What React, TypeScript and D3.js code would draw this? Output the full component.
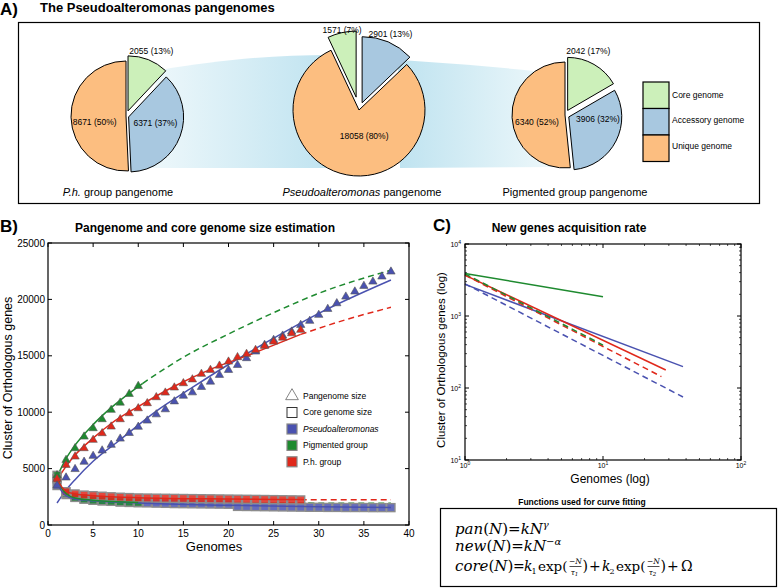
import React from 'react';
import * as d3 from 'd3';

// ---------------- Panel A data ----------------
const pieTitlesItalic = ['P.h.', 'Pseudoalteromonas', ''];
const pieTitlesRest = [' group pangenome', ' pangenome', 'Pigmented group pangenome'];
const genomeParts = ['Core genome', 'Accessory genome', 'Unique genome'];
const coreGenes = [2055, 1571, 2042];
const accessoryGenes = [6371, 2901, 3906];
const uniqueGenes = [8671, 18058, 6340];
const corePct = [13, 7, 17];
const accessoryPct = [37, 13, 32];
const uniquePct = [50, 80, 52];

// ---------------- Panel B data ----------------
const bXTicks = [0, 5, 10, 15, 20, 25, 30, 35, 40];
const bYTicks = [0, 5000, 10000, 15000, 20000, 25000];
// pangenome size (triangles), index i -> N = i + 1
const panPseudo = [3500, 4200, 4950, 5600, 6120, 6600, 7100, 7650, 8150, 8700, 9250, 9800, 10250, 10950, 11450, 11750, 12230, 12700, 13300, 13740, 14180, 14780, 15370, 15960, 16400, 16780, 17140, 17730, 18090, 18620, 19150, 19650, 20240, 20690, 21190, 21570, 22020, 22460];
const panPigmented = [4400, 5760, 6800, 7830, 8570, 9370, 10200, 10840, 11610, 12320];
const panPh = [4100, 5320, 6060, 6800, 7540, 8130, 8720, 9370, 9900, 10340, 10790, 11320, 11730, 12180, 12560, 12900, 13390, 13740, 14120, 14480, 14870, 15160, 15510, 15870, 16250, 16600, 16990, 17290];
// core genome size (squares)
const corePseudo = [3500, 2700, 2450, 2300, 2200, 2150, 2100, 2050, 2000, 1980, 1960, 1940, 1920, 1900, 1890, 1880, 1870, 1860, 1850, 1840, 1650, 1640, 1630, 1620, 1610, 1600, 1590, 1580, 1570, 1570, 1560, 1560, 1550, 1550, 1550, 1540, 1540, 1540];
const corePigmented = [4400, 2800, 2450, 2300, 2200, 2150, 2100, 2050, 2020, 2000];
const corePh = [4100, 2950, 2750, 2650, 2600, 2550, 2500, 2460, 2430, 2400, 2390, 2380, 2370, 2360, 2350, 2340, 2330, 2320, 2310, 2300, 2290, 2280, 2270, 2260, 2250, 2240, 2230, 2220];
// fitted curves: [N, genes]
const panFitPseudo: [number, number][] = [[1, 1950], [2, 3090], [3, 4020], [5, 5650], [8, 7560], [12, 10100], [16, 12200], [20, 14230], [25, 16560], [30, 18760], [38, 21720]];
const panFitPigmented: [number, number][] = [[1, 4290], [2, 5890], [3, 7080], [5, 8900], [7, 10400], [10.5, 12560]];
const panFitPigmentedExt: [number, number][] = [[10.5, 12560], [15, 14870], [20, 16930], [25, 18820], [30, 20540], [38, 22590]];
const panFitPh: [number, number][] = [[1, 4000], [2, 5200], [3, 6200], [5, 7700], [7, 9000], [10, 10500], [14, 12300], [18, 13800], [22, 15000], [28, 16900]];
const panFitPhExt: [number, number][] = [[28, 16900], [33, 18200], [38, 19300]];
const coreFitPseudo: [number, number][] = [[1, 3900], [1.5, 3000], [2, 2600], [3, 2300], [5, 2150], [10, 1950], [20, 1750], [30, 1620], [38, 1560]];
const coreFitPigmented: [number, number][] = [[1, 4300], [1.5, 3300], [2, 2800], [3, 2400], [5, 2200], [10, 2000]];
const coreFitPigmentedExt: [number, number][] = [[10, 2000], [20, 1960], [38, 1930]];
const coreFitPh: [number, number][] = [[1, 4100], [1.5, 3400], [2, 3000], [3, 2750], [5, 2600], [10, 2420], [20, 2300], [28, 2250]];
const coreFitPhExt: [number, number][] = [[28, 2250], [38, 2230]];
const bLegendLabels = ['Pangenome size', 'Core genome size', 'Pseudoalteromonas', 'Pigmented group', 'P.h. group'];

// ---------------- Panel C data ----------------
const cXTicks = [1, 10, 100];
const cYTicks = [10, 100, 1000, 10000];
const newPseudoFit: [number, number][] = [[1, 2750], [38, 198]];
const newPseudoObs: [number, number][] = [[1, 2800], [38, 75]];
const newPigmentedFit: [number, number][] = [[1, 3900], [10, 1850]];
const newPigmentedObs: [number, number][] = [[1, 3850], [10, 395]];
const newPhFit: [number, number][] = [[1, 3700], [28.5, 178]];
const newPhObs: [number, number][] = [[1, 3700], [26.5, 144]];

// ---------------- style / layout ----------------
const SANS = "'Liberation Sans', Arial, Helvetica, sans-serif";
const SERIF = "'DejaVu Serif', 'Liberation Serif', serif";
const pieColors = ['#ccf0ba', '#a8c8e0', '#fcbe80'];
const BLUE = '#4a52b0';
const GREEN = '#1e8a2f';
const RED = '#e0281b';

const pieLayout = [
  { cx: 126, cy: 116, r: 55, coreEndsAtTop: false, explode: [0.1, 0.05, 0], lr: [1.25, 0.57, 0.57], nudge: [[0, -1], [0, -4], [0, 5]], cap: 118 },
  { cx: 359, cy: 110, r: 66, coreEndsAtTop: true, explode: [0.2, 0.12, 0], lr: [1.25, 1.25, 0.4], nudge: [[1, 0.5], [-1, 0], [10, 0.5]], cap: 362 },
  { cx: 565, cy: 115, r: 53, coreEndsAtTop: false, explode: [0.1, 0.08, 0], lr: [1.28, 0.55, 0.55], nudge: [[-10.5, -5], [7, -9], [1, 5.5]], cap: 575 },
];

const xB = d3.scaleLinear().domain([0, 40]).range([48, 409]);
const yB = d3.scaleLinear().domain([0, 25000]).range([525, 243]);
const xC = d3.scaleLog().domain([1, 100]).range([465, 741]);
const yC = d3.scaleLog().domain([10, 10000]).range([460, 244]);

function Fraction({ x, sub }: { x: number; sub: string }) {
  return (
    <g>
      <text x={x} y={564} fontFamily={SERIF} fontStyle="italic" fontSize={7.5} textAnchor="middle">−N</text>
      <line x1={x - 6} x2={x + 6} y1={566.5} y2={566.5} stroke="#000" strokeWidth={0.7} />
      <text x={x - 1} y={574.5} fontFamily={SERIF} fontStyle="italic" fontSize={7.5} textAnchor="middle">τ<tspan fontSize={5.5} dy={1.5}>{sub}</tspan></text>
    </g>
  );
}

export default function App() {
  const W = 778, H = 588;

  // ---- pies ----
  const pies = pieLayout.map((L, i) => {
    const values = [coreGenes[i], accessoryGenes[i], uniqueGenes[i]];
    const pcts = [corePct[i], accessoryPct[i], uniquePct[i]];
    const total = d3.sum(values);
    const start = L.coreEndsAtTop ? (-2 * Math.PI * values[0]) / total : 0;
    const arcs = d3.pie<number>().sort(null).startAngle(start).endAngle(start + 2 * Math.PI)(values);
    const arcGen = d3.arc<d3.PieArcDatum<number>>().innerRadius(0).outerRadius(L.r);
    return (
      <g key={i}>
        <g transform={`translate(${L.cx},${L.cy})`}>
          {arcs.map((a, j) => {
            const mid = (a.startAngle + a.endAngle) / 2;
            const ex = L.explode[j] * L.r;
            return (
              <path key={j} d={arcGen(a) || ''} transform={`translate(${Math.sin(mid) * ex},${-Math.cos(mid) * ex})`}
                fill={pieColors[j]} stroke="#000" strokeWidth={1} strokeLinejoin="miter" />
            );
          })}
          {arcs.map((a, j) => {
            const mid = (a.startAngle + a.endAngle) / 2;
            const rr = L.lr[j] * L.r;
            return (
              <text key={'t' + j} x={Math.sin(mid) * rr + L.nudge[j][0]} y={-Math.cos(mid) * rr + L.nudge[j][1]} dy="0.35em"
                textAnchor="middle" fontSize={8.5} fontFamily={SANS}>{`${values[j]} (${pcts[j]}%)`}</text>
            );
          })}
        </g>
        <text x={L.cap} y={196} textAnchor="middle" fontSize={11} fontFamily={SANS}>
          {pieTitlesItalic[i] ? <tspan fontStyle="italic">{pieTitlesItalic[i]}</tspan> : null}
          <tspan>{pieTitlesRest[i]}</tspan>
        </text>
      </g>
    );
  });

  // ---- panel B ----
  const lineB = d3.line<[number, number]>().x(d => xB(d[0])).y(d => yB(d[1])).curve(d3.curveMonotoneX);
  const tri = d3.symbol().type(d3.symbolTriangle).size(30)() || '';
  const series = [
    { pan: panPseudo, core: corePseudo, color: BLUE },
    { pan: panPigmented, core: corePigmented, color: GREEN },
    { pan: panPh, core: corePh, color: RED },
  ];

  const lineC = d3.line<[number, number]>().x(d => xC(d[0])).y(d => yC(d[1]));
  const minorC = (lo: number, hi: number) => {
    const out: number[] = [];
    for (let d = lo; d < hi; d *= 10) for (let m = 2; m <= 9; m++) out.push(d * m);
    return out;
  };

  return (
    <svg width={W} height={H} style={{ position: 'absolute', left: 0, top: 0, background: '#fff' }} fontFamily={SANS}>
      <defs>
        <linearGradient id="band1" x1="0" x2="1" y1="0" y2="0">
          <stop offset="0" stopColor="#f3fafc" />
          <stop offset="1" stopColor="#bfe3f0" />
        </linearGradient>
        <linearGradient id="band2" x1="0" x2="1" y1="0" y2="0">
          <stop offset="0" stopColor="#bfe3f0" />
          <stop offset="1" stopColor="#f0f9fb" />
        </linearGradient>
      </defs>

      {/* ===== Panel A ===== */}
      <text x={0} y={15} fontSize={17} fontWeight="bold">A)</text>
      <text x={40} y={12} fontSize={13} fontWeight="bold">The Pseudoalteromonas pangenomes</text>
      <rect x={18.5} y={22.5} width={741} height={181} fill="#fff" stroke="#000" strokeWidth={1.2} />
      <path d="M160,70 C220,60 270,55 332,55 L332,168 L130,168 Z" fill="url(#band1)" />
      <path d="M398,60 C450,63 510,68 562,74 L562,167 L400,168 Z" fill="url(#band2)" />
      {pies}
      {genomeParts.map((g, j) => (
        <g key={g}>
          <rect x={643} y={82 + j * 26.5} width={26} height={26.5} fill={pieColors[j]} stroke="#000" strokeWidth={1.2} />
          <text x={672} y={97.5 + j * 25.5} fontSize={8.5}>{g}</text>
        </g>
      ))}

      {/* ===== Panel B ===== */}
      <text x={0} y={232} fontSize={17} fontWeight="bold">B)</text>
      <text x={205} y={232} fontSize={12} fontWeight="bold" textAnchor="middle">Pangenome and core genome size estimation</text>
      {bXTicks.map(t => (
        <g key={'bx' + t}>
          <line x1={xB(t)} x2={xB(t)} y1={525} y2={521} stroke="#000" />
          <line x1={xB(t)} x2={xB(t)} y1={243} y2={247} stroke="#000" />
          <text x={xB(t)} y={537} fontSize={10} textAnchor="middle">{t}</text>
        </g>
      ))}
      {bYTicks.map(t => (
        <g key={'by' + t}>
          <line x1={48} x2={52} y1={yB(t)} y2={yB(t)} stroke="#000" />
          <line x1={409} x2={405} y1={yB(t)} y2={yB(t)} stroke="#000" />
          <text x={45} y={yB(t)} dy="0.35em" fontSize={10} textAnchor="end">{t}</text>
        </g>
      ))}
      <text x={214} y={551} fontSize={13} textAnchor="middle">Genomes</text>
      <text transform="translate(12,378) rotate(-90)" fontSize={12.5} textAnchor="middle">Cluster of Orthologous genes</text>

      {/* fit curves */}
      <path d={lineB(panFitPseudo) || ''} fill="none" stroke={BLUE} strokeWidth={1.5} />
      <path d={lineB(panFitPigmented) || ''} fill="none" stroke={GREEN} strokeWidth={1.5} />
      <path d={lineB(panFitPigmentedExt) || ''} fill="none" stroke={GREEN} strokeWidth={1.5} strokeDasharray="6,4" />
      <path d={lineB(panFitPh) || ''} fill="none" stroke={RED} strokeWidth={1.5} />
      <path d={lineB(panFitPhExt) || ''} fill="none" stroke={RED} strokeWidth={1.5} strokeDasharray="6,4" />
      <path d={lineB(coreFitPigmentedExt) || ''} fill="none" stroke={GREEN} strokeWidth={1.5} strokeDasharray="6,4" />
      <path d={lineB(coreFitPhExt) || ''} fill="none" stroke={RED} strokeWidth={1.5} strokeDasharray="6,4" />

      {/* core squares */}
      {series.map((s, k) => (
        <g key={'sq' + k}>
          {s.core.map((v, i) => (
            <rect key={i} x={xB(i + 1) - 4} y={yB(v) - 4} width={8} height={8} fill={s.color} fillOpacity={0.85} stroke="#8c8c8c" strokeWidth={1.4} />
          ))}
        </g>
      ))}
      <path d={lineB(coreFitPseudo) || ''} fill="none" stroke={BLUE} strokeWidth={1.5} />
      <path d={lineB(coreFitPigmented) || ''} fill="none" stroke={GREEN} strokeWidth={1.5} />
      <path d={lineB(coreFitPh) || ''} fill="none" stroke={RED} strokeWidth={1.5} />

      {/* pan triangles */}
      {series.map((s, k) => (
        <g key={'tr' + k}>
          {s.pan.map((v, i) => (
            <path key={i} d={tri} transform={`translate(${xB(i + 1)},${yB(v)})`} fill={s.color} stroke="#555" strokeWidth={0.6} />
          ))}
        </g>
      ))}
      <rect x={48} y={243} width={361} height={282} fill="none" stroke="#000" strokeWidth={1.2} />

      {/* legend B */}
      <path d={d3.symbol().type(d3.symbolTriangle).size(70)() || ''} transform="translate(292,396)" fill="#fff" stroke="#666" strokeWidth={0.8} />
      <rect x={287} y={407.5} width={10} height={10} fill="#fff" stroke="#333" strokeWidth={1} />
      {[BLUE, GREEN, RED].map((c, j) => (
        <rect key={c} x={287} y={424 + j * 16.4} width={10} height={10} fill={c} stroke="#888" strokeWidth={1.2} />
      ))}
      {bLegendLabels.map((l, j) => (
        <text key={l} x={303} y={398.5 + j * 16.5} fontSize={8.5} fontStyle={j === 2 ? 'italic' : 'normal'}>{l}</text>
      ))}

      {/* ===== Panel C ===== */}
      <text x={433} y={231} fontSize={17} fontWeight="bold">C)</text>
      <text x={569} y={232} fontSize={12} fontWeight="bold" textAnchor="middle">New genes acquisition rate</text>
      {minorC(1, 100).map(t => (
        <g key={'cxm' + t}>
          <line x1={xC(t)} x2={xC(t)} y1={460} y2={458} stroke="#000" strokeWidth={0.7} />
          <line x1={xC(t)} x2={xC(t)} y1={244} y2={246} stroke="#000" strokeWidth={0.7} />
        </g>
      ))}
      {minorC(10, 10000).map(t => (
        <g key={'cym' + t}>
          <line x1={465} x2={467} y1={yC(t)} y2={yC(t)} stroke="#000" strokeWidth={0.7} />
          <line x1={741} x2={739} y1={yC(t)} y2={yC(t)} stroke="#000" strokeWidth={0.7} />
        </g>
      ))}
      {cXTicks.map((t, i) => (
        <g key={'cx' + t}>
          <line x1={xC(t)} x2={xC(t)} y1={460} y2={456} stroke="#000" />
          <line x1={xC(t)} x2={xC(t)} y1={244} y2={248} stroke="#000" />
          <text x={xC(t)} y={468} fontSize={7} textAnchor="middle">10<tspan fontSize={5} dy={-3}>{i}</tspan></text>
        </g>
      ))}
      {cYTicks.map((t, i) => (
        <g key={'cy' + t}>
          <line x1={465} x2={469} y1={yC(t)} y2={yC(t)} stroke="#000" />
          <line x1={741} x2={737} y1={yC(t)} y2={yC(t)} stroke="#000" />
          <text x={461} y={yC(t) + 3} fontSize={7} textAnchor="end">10<tspan fontSize={5} dy={-3}>{i + 1}</tspan></text>
        </g>
      ))}
      <path d={lineC(newPigmentedFit) || ''} stroke={GREEN} strokeWidth={1.5} fill="none" />
      <path d={lineC(newPseudoFit) || ''} stroke={BLUE} strokeWidth={1.5} fill="none" />
      <path d={lineC(newPhFit) || ''} stroke={RED} strokeWidth={1.5} fill="none" />
      <path d={lineC(newPseudoObs) || ''} stroke={BLUE} strokeWidth={1.5} fill="none" strokeDasharray="6,4" />
      <path d={lineC(newPhObs) || ''} stroke={RED} strokeWidth={1.5} fill="none" strokeDasharray="6,4" />
      <path d={lineC(newPigmentedObs) || ''} stroke={GREEN} strokeWidth={1.5} fill="none" strokeDasharray="6,4" />
      <rect x={465} y={244} width={276} height={216} fill="none" stroke="#000" strokeWidth={1.2} />
      <text x={610} y={483} fontSize={12} textAnchor="middle">Genomes (log)</text>
      <text transform="translate(445,360) rotate(-90)" fontSize={11.5} textAnchor="middle">Cluster of Orthologous genes (log)</text>

      {/* ===== functions box ===== */}
      <text x={582} y={505} fontSize={8.5} fontWeight="bold" textAnchor="middle">Functions used for curve fitting</text>
      <rect x={440.5} y={508.5} width={336} height={78} fill="#fff" stroke="#000" strokeWidth={1.2} />
      <text x={455} y={534} fontFamily={SERIF} fontSize={15}>
        <tspan fontStyle="italic">pan</tspan><tspan>(</tspan><tspan fontStyle="italic">N</tspan><tspan>)</tspan>
        <tspan>=</tspan><tspan fontStyle="italic">kN</tspan><tspan fontStyle="italic" fontSize={10} dy={-6}>γ</tspan>
      </text>
      <text x={455} y={551} fontFamily={SERIF} fontSize={15}>
        <tspan fontStyle="italic">new</tspan><tspan>(</tspan><tspan fontStyle="italic">N</tspan><tspan>)</tspan>
        <tspan>=</tspan><tspan fontStyle="italic">kN</tspan><tspan fontStyle="italic" fontSize={10} dy={-6}>−α</tspan>
      </text>
      <g fontFamily={SERIF} fontSize={14}>
        <text x={455} y={571} fontSize={15}><tspan fontStyle="italic">core</tspan>(<tspan fontStyle="italic">N</tspan>)</text>
        <text x={513} y={571}>=</text>
        <text x={524} y={571} fontStyle="italic">k</text>
        <text x={531.5} y={574} fontSize={8}>1</text>
        <text x={538} y={571} fontSize={13.5}>exp(</text>
        <Fraction x={575.5} sub="1" />
        <text x={582.5} y={571}>)</text>
        <text x={589} y={571}>+</text>
        <text x={602} y={571} fontStyle="italic">k</text>
        <text x={609.5} y={574} fontSize={8}>2</text>
        <text x={616} y={571} fontSize={13.5}>exp(</text>
        <Fraction x={653.5} sub="2" />
        <text x={660.5} y={571}>)</text>
        <text x={667} y={571}>+</text>
        <text x={681} y={571}>Ω</text>
      </g>
    </svg>
  );
}
